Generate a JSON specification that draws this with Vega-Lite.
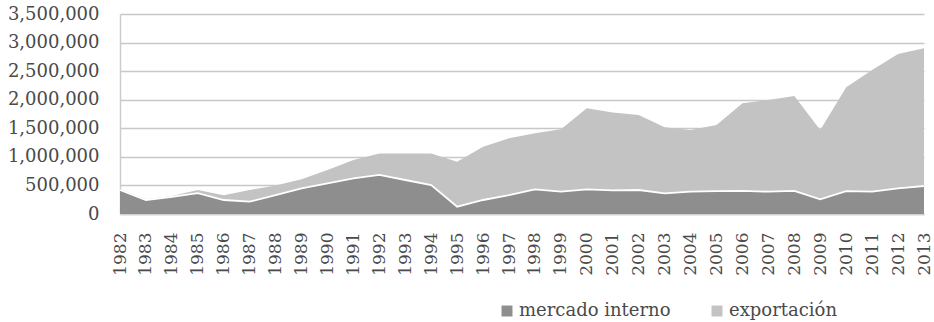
{
  "$schema": "https://vega.github.io/schema/vega-lite/v6.json",
  "width": 804,
  "height": 200,
  "autosize": "none",
  "padding": {"left": 120, "top": 14, "right": 10, "bottom": 108},
  "background": "white",
  "config": {
    "view": {"stroke": null},
    "font": "DejaVu Serif"
  },
  "data": {
    "values": [
      {"year": "1982", "serie": "mercado interno", "valor": 420000},
      {"year": "1983", "serie": "mercado interno", "valor": 245000},
      {"year": "1984", "serie": "mercado interno", "valor": 300000},
      {"year": "1985", "serie": "mercado interno", "valor": 365000},
      {"year": "1986", "serie": "mercado interno", "valor": 245000},
      {"year": "1987", "serie": "mercado interno", "valor": 215000},
      {"year": "1988", "serie": "mercado interno", "valor": 330000},
      {"year": "1989", "serie": "mercado interno", "valor": 450000},
      {"year": "1990", "serie": "mercado interno", "valor": 537000},
      {"year": "1991", "serie": "mercado interno", "valor": 625000},
      {"year": "1992", "serie": "mercado interno", "valor": 685000},
      {"year": "1993", "serie": "mercado interno", "valor": 595000},
      {"year": "1994", "serie": "mercado interno", "valor": 507000},
      {"year": "1995", "serie": "mercado interno", "valor": 128000},
      {"year": "1996", "serie": "mercado interno", "valor": 245000},
      {"year": "1997", "serie": "mercado interno", "valor": 332000},
      {"year": "1998", "serie": "mercado interno", "valor": 432000},
      {"year": "1999", "serie": "mercado interno", "valor": 390000},
      {"year": "2000", "serie": "mercado interno", "valor": 432000},
      {"year": "2001", "serie": "mercado interno", "valor": 415000},
      {"year": "2002", "serie": "mercado interno", "valor": 420000},
      {"year": "2003", "serie": "mercado interno", "valor": 362000},
      {"year": "2004", "serie": "mercado interno", "valor": 390000},
      {"year": "2005", "serie": "mercado interno", "valor": 400000},
      {"year": "2006", "serie": "mercado interno", "valor": 405000},
      {"year": "2007", "serie": "mercado interno", "valor": 390000},
      {"year": "2008", "serie": "mercado interno", "valor": 405000},
      {"year": "2009", "serie": "mercado interno", "valor": 257000},
      {"year": "2010", "serie": "mercado interno", "valor": 400000},
      {"year": "2011", "serie": "mercado interno", "valor": 390000},
      {"year": "2012", "serie": "mercado interno", "valor": 450000},
      {"year": "2013", "serie": "mercado interno", "valor": 490000},
      {"year": "1982", "serie": "exportación", "valor": 15000},
      {"year": "1983", "serie": "exportación", "valor": 15000},
      {"year": "1984", "serie": "exportación", "valor": 15000},
      {"year": "1985", "serie": "exportación", "valor": 55000},
      {"year": "1986", "serie": "exportación", "valor": 85000},
      {"year": "1987", "serie": "exportación", "valor": 205000},
      {"year": "1988", "serie": "exportación", "valor": 170000},
      {"year": "1989", "serie": "exportación", "valor": 160000},
      {"year": "1990", "serie": "exportación", "valor": 233000},
      {"year": "1991", "serie": "exportación", "valor": 320000},
      {"year": "1992", "serie": "exportación", "valor": 375000},
      {"year": "1993", "serie": "exportación", "valor": 465000},
      {"year": "1994", "serie": "exportación", "valor": 553000},
      {"year": "1995", "serie": "exportación", "valor": 787000},
      {"year": "1996", "serie": "exportación", "valor": 933000},
      {"year": "1997", "serie": "exportación", "valor": 993000},
      {"year": "1998", "serie": "exportación", "valor": 980000},
      {"year": "1999", "serie": "exportación", "valor": 1092000},
      {"year": "2000", "serie": "exportación", "valor": 1418000},
      {"year": "2001", "serie": "exportación", "valor": 1360000},
      {"year": "2002", "serie": "exportación", "valor": 1313000},
      {"year": "2003", "serie": "exportación", "valor": 1155000},
      {"year": "2004", "serie": "exportación", "valor": 1080000},
      {"year": "2005", "serie": "exportación", "valor": 1157000},
      {"year": "2006", "serie": "exportación", "valor": 1532000},
      {"year": "2007", "serie": "exportación", "valor": 1605000},
      {"year": "2008", "serie": "exportación", "valor": 1660000},
      {"year": "2009", "serie": "exportación", "valor": 1213000},
      {"year": "2010", "serie": "exportación", "valor": 1817000},
      {"year": "2011", "serie": "exportación", "valor": 2130000},
      {"year": "2012", "serie": "exportación", "valor": 2350000},
      {"year": "2013", "serie": "exportación", "valor": 2410000}
    ]
  },
  "encoding": {
    "x": {
      "field": "year",
      "type": "ordinal",
      "scale": {"type": "point", "padding": 0},
      "axis": {
        "title": null,
        "labelAngle": -90,
        "labelAlign": "right",
        "labelBaseline": "middle",
        "labelFont": "DejaVu Serif",
        "labelFontSize": 17,
        "labelColor": "#4a4a4a",
        "labelPadding": 18,
        "ticks": false,
        "domainColor": "#d0d0d0",
        "domainWidth": 1.5,
        "grid": false
      }
    }
  },
  "layer": [
    {
      "mark": {"type": "area", "opacity": 1},
      "encoding": {
        "y": {
          "field": "valor",
          "type": "quantitative",
          "stack": "zero",
          "scale": {"domain": [0, 3500000], "nice": false, "zero": true},
          "axis": {
            "title": null,
            "values": [0, 500000, 1000000, 1500000, 2000000, 2500000, 3000000, 3500000],
            "format": ",d",
            "labelFont": "DejaVu Serif",
            "labelFontSize": 18,
            "labelColor": "#4a4a4a",
            "labelPadding": 21,
            "ticks": false,
            "domain": true,
            "domainColor": "#cccccc",
            "domainWidth": 1.5,
            "gridColor": "#c8c8c8",
            "gridWidth": 1.5
          }
        },
        "color": {
          "field": "serie",
          "type": "nominal",
          "sort": ["mercado interno", "exportación"],
          "scale": {"domain": ["mercado interno", "exportación"], "range": ["#8e8e8e", "#c3c3c3"]},
          "legend": {
            "title": null,
            "orient": "none",
            "legendX": 378,
            "legendY": 288,
            "direction": "horizontal",
            "symbolType": "square",
            "symbolSize": 120,
            "symbolStrokeWidth": 0,
            "symbolOpacity": 1,
            "labelFont": "DejaVu Serif",
            "labelFontSize": 18,
            "labelColor": "#4a4a4a",
            "labelOffset": 3,
            "columnPadding": 37
          }
        }
      }
    },
    {
      "transform": [{"filter": "datum.serie === 'mercado interno'"}],
      "mark": {"type": "line", "color": "white", "strokeWidth": 1.8},
      "encoding": {
        "y": {
          "field": "valor",
          "type": "quantitative",
          "stack": null,
          "scale": {"domain": [0, 3500000], "nice": false, "zero": true},
          "axis": {
            "title": null,
            "values": [0, 500000, 1000000, 1500000, 2000000, 2500000, 3000000, 3500000],
            "format": ",d",
            "labelFont": "DejaVu Serif",
            "labelFontSize": 18,
            "labelColor": "#4a4a4a",
            "labelPadding": 21,
            "ticks": false,
            "domain": true,
            "domainColor": "#cccccc",
            "domainWidth": 1.5,
            "gridColor": "#c8c8c8",
            "gridWidth": 1.5
          }
        }
      }
    }
  ]
}
